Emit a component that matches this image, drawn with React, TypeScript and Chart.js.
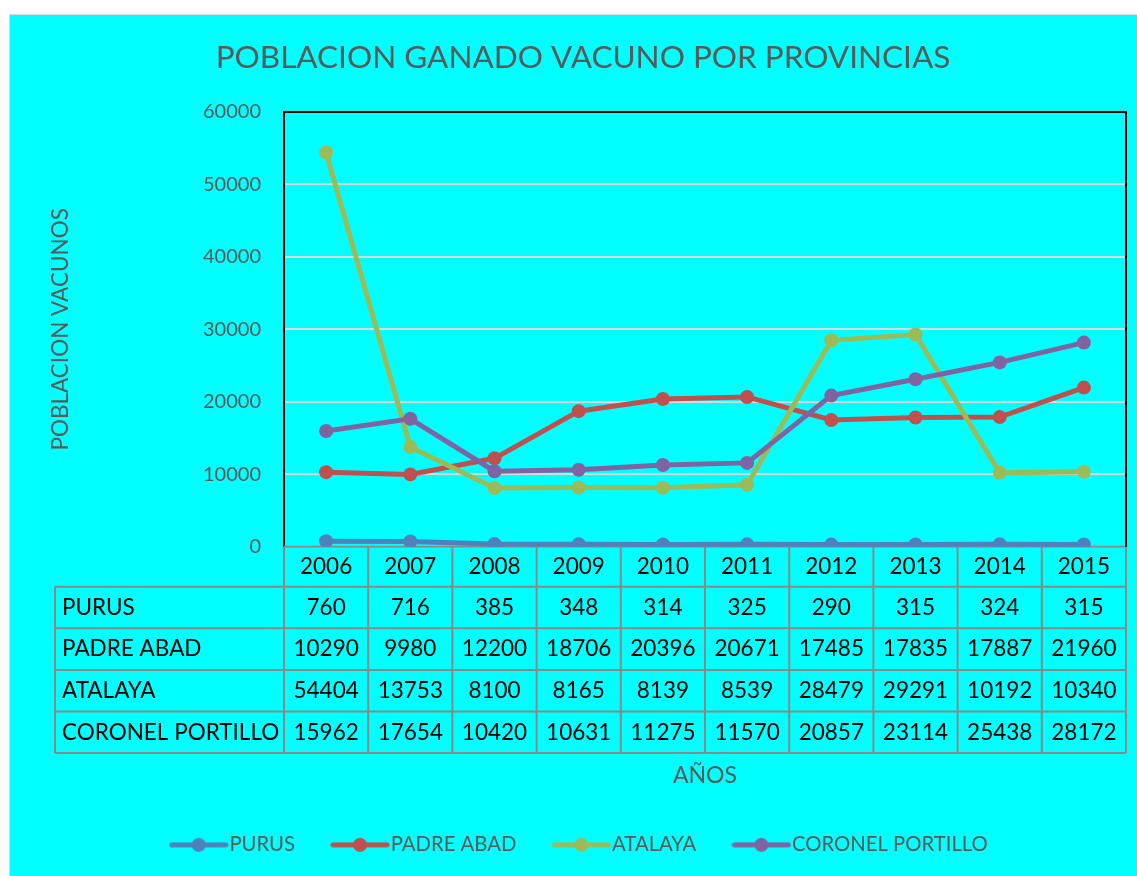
import React, { useEffect, useRef } from "react";
import { Chart, registerables } from "chart.js";

Chart.register(...registerables);

const years = ["2006", "2007", "2008", "2009", "2010", "2011", "2012", "2013", "2014", "2015"];
const purus = [760, 716, 385, 348, 314, 325, 290, 315, 324, 315];
const padreAbad = [10290, 9980, 12200, 18706, 20396, 20671, 17485, 17835, 17887, 21960];
const atalaya = [54404, 13753, 8100, 8165, 8139, 8539, 28479, 29291, 10192, 10340];
const coronelPortillo = [15962, 17654, 10420, 10631, 11275, 11570, 20857, 23114, 25438, 28172];
const seriesNames = ["PURUS", "PADRE ABAD", "ATALAYA", "CORONEL PORTILLO"];
const seriesValues = [purus, padreAbad, atalaya, coronelPortillo];
const seriesColors = ["#4F81BD", "#C0504D", "#9BBB59", "#8064A2"];
const yMin = 0;
const yMax = 60000;
const yStep = 10000;

const FONT = "Lato";
const GRAY = "#595959";

function makeLegendIcon(color: string): HTMLCanvasElement {
  const c = document.createElement("canvas");
  c.width = 60;
  c.height = 18;
  const g = c.getContext("2d")!;
  g.strokeStyle = color;
  g.fillStyle = color;
  g.lineWidth = 5;
  g.lineCap = "round";
  g.beginPath();
  g.moveTo(3, 9);
  g.lineTo(57, 9);
  g.stroke();
  g.beginPath();
  g.arc(30, 9, 7, 0, Math.PI * 2);
  g.fill();
  return c;
}

const tablePlugin = {
  id: "dataTable",
  beforeDatasetsDraw(chart: any) {
    const { ctx, chartArea, scales } = chart;
    const x = scales.x;
    const half = (x.getPixelForValue(1) - x.getPixelForValue(0)) / 2;
    const left = chartArea.left;
    const right = chartArea.right;
    const top = chartArea.top;
    const base = chartArea.bottom;
    const headerH = 40;
    const rowH = 41.6;
    const labelLeft = 45;
    const rows: number[] = [base, base + headerH];
    for (let i = 1; i <= seriesNames.length; i++) rows.push(base + headerH + rowH * i);
    const tableBottom = rows[rows.length - 1];

    ctx.save();
    ctx.strokeStyle = "#898989";
    ctx.lineWidth = 2;
    ctx.beginPath();
    rows.forEach((y, i) => {
      ctx.moveTo(i === 0 ? left : labelLeft, y);
      ctx.lineTo(right, y);
    });
    for (let i = 0; i <= years.length; i++) {
      const xb = i < years.length ? x.getPixelForValue(i) - half : x.getPixelForValue(years.length - 1) + half;
      ctx.moveTo(xb, base);
      ctx.lineTo(xb, tableBottom);
    }
    ctx.moveTo(labelLeft, rows[1]);
    ctx.lineTo(labelLeft, tableBottom);
    ctx.stroke();

    ctx.strokeStyle = "#000";
    ctx.lineWidth = 2;
    ctx.beginPath();
    ctx.moveTo(left, top);
    ctx.lineTo(right, top);
    ctx.lineTo(right, base);
    ctx.stroke();

    ctx.fillStyle = "#000";
    ctx.font = `22.5px ${FONT}`;
    ctx.textBaseline = "middle";
    ctx.textAlign = "center";
    years.forEach((yr, i) => {
      ctx.fillText(yr, x.getPixelForValue(i), (rows[0] + rows[1]) / 2);
    });
    seriesNames.forEach((name, r) => {
      const cy = (rows[r + 1] + rows[r + 2]) / 2;
      ctx.textAlign = "left";
      ctx.fillText(name, labelLeft + 7, cy);
      ctx.textAlign = "center";
      seriesValues[r].forEach((v, i) => {
        ctx.fillText(String(v), x.getPixelForValue(i), cy);
      });
    });
    ctx.restore();
  },
};

export default function App() {
  const ref = useRef<HTMLCanvasElement>(null);

  useEffect(() => {
    const icons = seriesColors.map((c) => makeLegendIcon(c));
    const chart = new Chart(ref.current!, {
      type: "line",
      data: {
        labels: years,
        datasets: seriesNames.map((name, i) => ({
          label: name,
          data: seriesValues[i],
          borderColor: seriesColors[i],
          backgroundColor: seriesColors[i],
          pointBackgroundColor: seriesColors[i],
          pointBorderColor: seriesColors[i],
          borderWidth: 5,
          pointRadius: 7,
          pointBorderWidth: 0,
          tension: 0,
          fill: false,
          order: seriesNames.length - i,
        })),
      },
      options: {
        responsive: false,
        animation: false,
        devicePixelRatio: 1,
        layout: { padding: { left: 30, right: 38, top: 0, bottom: 11 } },
        plugins: {
          title: {
            display: true,
            text: "POBLACION GANADO VACUNO POR PROVINCIAS",
            color: GRAY,
            font: { family: FONT, size: 31.5, weight: "normal" },
            padding: { top: 24, bottom: 35.2 },
          },
          legend: {
            position: "bottom",
            labels: {
              usePointStyle: true,
              pointStyleWidth: 41,
              padding: 44.5,
              color: GRAY,
              font: { family: FONT, size: 20.3 },
              generateLabels: (ch: any) => {
                const items = (Chart.defaults.plugins.legend.labels as any).generateLabels(ch);
                return items
                  .map((it: any) => ({ ...it, pointStyle: icons[it.datasetIndex] }))
                  .sort((a: any, b: any) => a.datasetIndex - b.datasetIndex);
              },
            },
          },
          tooltip: { enabled: false },
        },
        scales: {
          x: {
            type: "category",
            offset: true,
            grid: { display: false },
            border: { display: false },
            ticks: { display: false },
            title: {
              display: true,
              text: "AÑOS",
              color: GRAY,
              font: { family: FONT, size: 23 },
              padding: { top: 0, bottom: 1 },
            },
            afterFit: (s: any) => {
              s.height = 243.5;
            },
          },
          y: {
            min: yMin,
            max: yMax,
            ticks: {
              stepSize: yStep,
              color: GRAY,
              font: { family: FONT, size: 20 },
              padding: 23,
              callback: (v: any) => String(v),
            },
            grid: { color: "#d9d9d9", lineWidth: 2, drawTicks: false },
            border: { display: true, color: "#000", width: 2 },
            title: {
              display: true,
              text: "POBLACION VACUNOS",
              color: GRAY,
              font: { family: FONT, size: 22.5 },
              padding: { top: 7, bottom: 0 },
            },
            afterFit: (s: any) => {
              s.width = 244;
            },
          },
        },
      },
      plugins: [tablePlugin],
    } as any);
    return () => chart.destroy();
  }, []);

  return (
    <div
      style={{
        position: "absolute",
        left: 9,
        top: 14,
        width: 1128,
        height: 862,
        boxSizing: "border-box",
        borderLeft: "1px solid #d9d9d9",
        borderTop: "1px solid #d9d9d9",
        background: "#00FFFF",
        overflow: "hidden",
      }}
    >
      <canvas ref={ref} width={1154} height={861} style={{ display: "block", width: 1154, height: 861 }} />
    </div>
  );
}
